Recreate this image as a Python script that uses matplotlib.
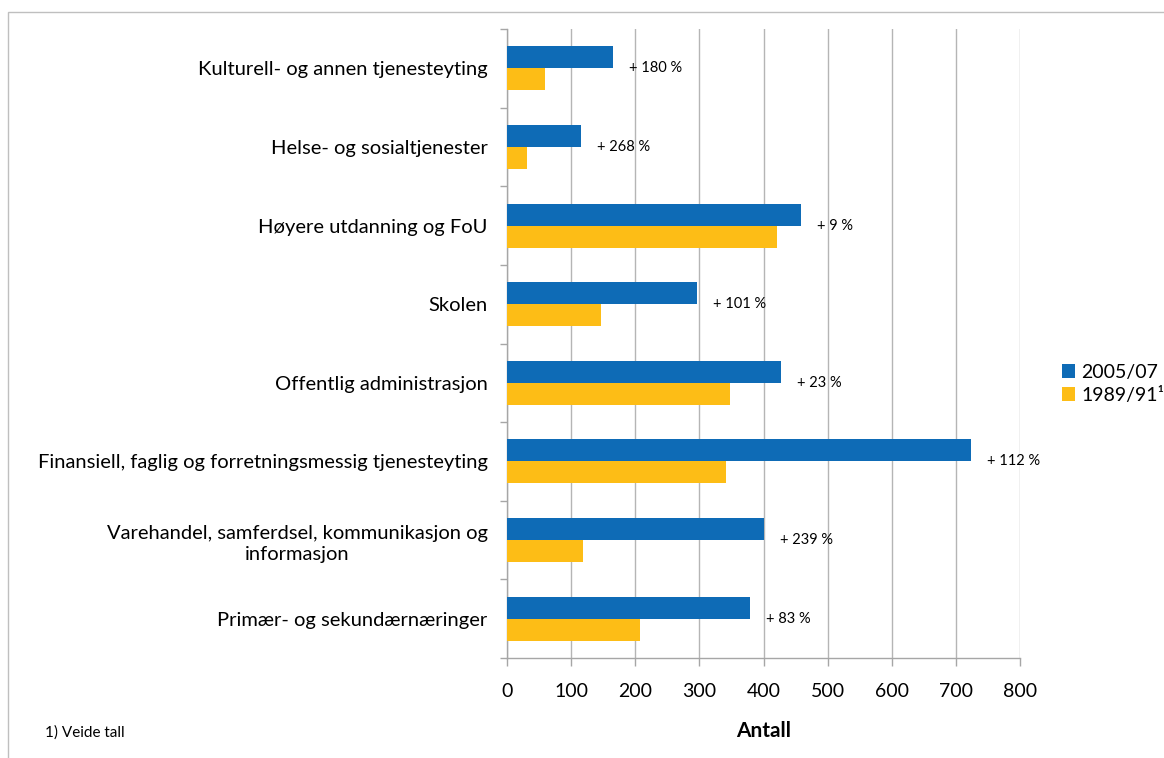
import numpy as np
import matplotlib.pyplot as plt
from matplotlib.patches import Rectangle
from matplotlib.ticker import FixedLocator

plt.rcParams['font.family'] = ['Lato', 'DejaVu Sans']

# categories from top to bottom
categories = [
    'Kulturell- og annen tjenesteyting',
    'Helse- og sosialtjenester',
    'Høyere utdanning og FoU',
    'Skolen',
    'Offentlig administrasjon',
    'Finansiell, faglig og forretningsmessig tjenesteyting',
    'Varehandel, samferdsel, kommunikasjon og\ninformasjon',
    'Primær- og sekundærnæringer',
]
values_2005 = [165, 115, 459, 296, 427, 723, 401, 379]
values_1989 = [59, 31, 421, 146, 347, 342, 118, 208]
change_labels = ['+ 180 %', '+ 268 %', '+ 9 %', '+ 101 %',
                 '+ 23 %', '+ 112 %', '+ 239 %', '+ 83 %']
series_names = ['2005/07', '1989/91¹']
x_ticks = [0, 100, 200, 300, 400, 500, 600, 700, 800]

blue = '#0E6BB6'
yellow = '#FDBD16'
grey = '#A6A6A6'

fig = plt.figure(figsize=(11.64, 7.58), dpi=100)
ax = fig.add_axes([507 / 1164, 100 / 758, 513 / 1164, 629 / 758])

y = np.arange(len(categories))
h = 0.28
b1 = ax.barh(y - h / 2, values_2005, height=h, color=blue, label=series_names[0], zorder=3)
b2 = ax.barh(y + h / 2, values_1989, height=h, color=yellow, label=series_names[1], zorder=3)

# change labels to the right of the 2005/07 bars
for yi, v, txt in zip(y, values_2005, change_labels):
    ax.annotate(txt, (v, yi), xytext=(16, 0), textcoords='offset pixels',
                ha='left', va='center', fontsize=10.5, zorder=4)

ax.set_xlim(0, 800)
ax.set_ylim(len(categories) - 0.5, -0.5)
ax.set_xticks(x_ticks)
ax.set_xticklabels([str(t) for t in x_ticks], fontsize=14)
ax.set_yticks(y)
ax.set_yticklabels(categories, fontsize=14.5, linespacing=1.35)
for lab in ax.get_yticklabels():
    lab.set_multialignment('center')
ax.yaxis.set_minor_locator(FixedLocator(np.arange(-0.5, len(categories), 1)))
ax.tick_params(axis='y', which='major', length=0, pad=14)
ax.tick_params(axis='y', which='minor', length=5, color=grey, width=1)
ax.tick_params(axis='x', length=6, color=grey, width=1, pad=12)

ax.grid(axis='x', color='#B5B5B5', linewidth=1, zorder=0)
for s in ['top', 'right']:
    ax.spines[s].set_visible(False)
for s in ['left', 'bottom']:
    ax.spines[s].set_color(grey)
    ax.spines[s].set_linewidth(1)

ax.set_xlabel('Antall', fontsize=15, fontweight='bold', labelpad=15)

fig.legend(handles=[b1, b2], loc='center left',
           bbox_to_anchor=(1054 / 1164, 1 - 384 / 758), frameon=False,
           fontsize=14, handlelength=0.7, handleheight=0.7,
           handletextpad=0.3, labelspacing=0.3, borderaxespad=0)

fig.text(45 / 1164, 1 - 733 / 758, '1) Veide tall', fontsize=11, ha='left', va='center')

# chart area border
fig.add_artist(Rectangle((8 / 1164, -0.1), 1.2, 1.1 - 12 / 758,
                         transform=fig.transFigure, fill=False,
                         edgecolor='#BFBFBF', linewidth=1))

fig.savefig('out.png', dpi=100)
